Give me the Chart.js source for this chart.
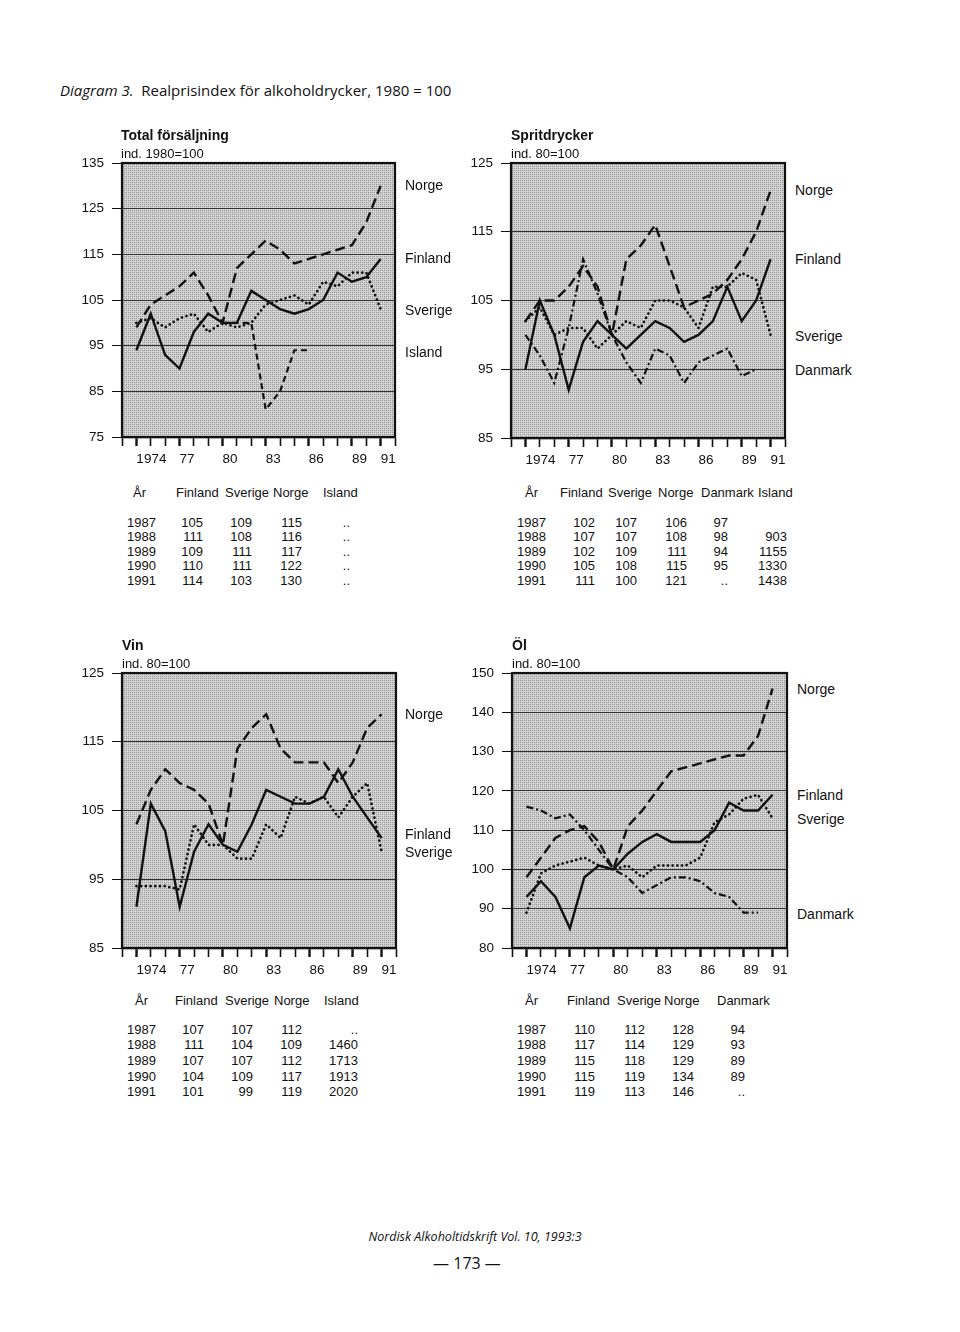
<!DOCTYPE html>
<html><head><meta charset="utf-8">
<script src="https://cdn.jsdelivr.net/npm/chart.js@4.4.1/dist/chart.umd.min.js"></script>
<style>
html,body{margin:0;padding:0;background:#fff;}
body{width:960px;height:1332px;position:relative;overflow:hidden;font-family:"Liberation Sans",Arial,sans-serif;color:#111;}
.t{position:absolute;line-height:1;white-space:nowrap;}
canvas{position:absolute;}
</style></head><body>
<script>
// ---------- data ----------
const years = [1974,1975,1976,1977,1978,1979,1980,1981,1982,1983,1984,1985,1986,1987,1988,1989,1990,1991];
const majorYears = [1974,1977,1980,1983,1986,1989,1991];
const tickLabels = ['1974','77','80','83','86','89','91'];

// Total försäljning
const totFinland = [94,102,93,90,98,102,100,100,107,105,103,102,103,105,111,109,110,114];
const totSverige = [100,101,99,101,102,98,100,99,100,104,105,106,104,109,108,111,111,103];
const totNorge   = [99,104,106,108,111,106,100,112,115,118,116,113,114,115,116,117,122,130];
const totIsland  = [null,null,null,null,null,null,100,100,100,81,85,94,94,null,null,null,null,null];
const totYTicks = [75,135,10];

// Spritdrycker
const sprFinland = [95,105,100,92,99,102,100,98,100,102,101,99,100,102,107,102,105,111];
const sprSverige = [102,104,100,101,101,98,100,102,101,105,105,104,101,107,107,109,108,100];
const sprNorge   = [102,105,105,107,110,107,100,111,113,116,110,104,105,106,108,111,115,121];
const sprDanmark = [100,97,93,101,111,106,100,96,93,98,97,93,96,97,98,94,95,null];
const sprYTicks = [85,125,10];

// Vin
const vinFinland = [91,106,102,91,99,103,100,99,103,108,107,106,106,107,111,107,104,101];
const vinSverige = [94,94,94,93.5,103,100,100,98,98,103,101,107,106,107,104,107,109,99];
const vinNorge   = [103,108,111,109,108,106,100,114,117,119,114,112,112,112,109,112,117,119];
const vinYTicks = [85,125,10];

// Öl
const olFinland = [93,97,93,85,98,101,100,104,107,109,107,107,107,110,117,115,115,119];
const olSverige = [89,99,101,102,103,101,100,101,98,101,101,101,103,112,114,118,119,113];
const olNorge   = [98,103,108,110,111,107,100,111,115,120,125,126,127,128,129,129,134,146];
const olDanmark = [116,115,113,114,110,105,100,98,94,96,98,98,97,94,93,89,89,null];
const olYTicks = [80,150,10];

// tables
const tabYears = ['1987','1988','1989','1990','1991'];
const t1Head = ['År','Finland','Sverige','Norge','Island'];
const t1Fin = ['105','111','109','110','114'], t1Swe = ['109','108','111','111','103'], t1Nor = ['115','116','117','122','130'], t1Isl = ['..','..','..','..','..'];
const t2Head = ['År','Finland','Sverige','Norge','Danmark','Island'];
const t2Fin = ['102','107','102','105','111'], t2Swe = ['107','107','109','108','100'], t2Nor = ['106','108','111','115','121'], t2Den = ['97','98','94','95','..'], t2Isl = ['','903','1155','1330','1438'];
const t3Head = ['År','Finland','Sverige','Norge','Island'];
const t3Fin = ['107','111','107','104','101'], t3Swe = ['107','104','107','109','99'], t3Nor = ['112','109','112','117','119'], t3Isl = ['..','1460','1713','1913','2020'];
const t4Head = ['År','Finland','Sverige','Norge','Danmark'];
const t4Fin = ['110','117','115','115','119'], t4Swe = ['112','114','118','119','113'], t4Nor = ['128','129','129','134','146'], t4Den = ['94','93','89','89','..'];

// ---------- helpers ----------
const FONT = '"Liberation Sans", Arial, sans-serif';
function txt(s, x, y, o) {
  o = o || {};
  const d = document.createElement('div');
  d.className = 't';
  d.textContent = s;
  const fs = o.size || 13;
  d.style.fontSize = fs + 'px';
  if (o.weight) d.style.fontWeight = o.weight;
  if (o.italic) d.style.fontStyle = 'italic';
  if (o.family) d.style.fontFamily = o.family;
  d.style.top = (y - 0.5 * fs) + 'px';
  if (o.align === 'right') { d.style.right = (960 - x) + 'px'; d.style.textAlign = 'right'; }
  else if (o.align === 'center') { d.style.left = (x - 200) + 'px'; d.style.width = '400px'; d.style.textAlign = 'center'; }
  else d.style.left = x + 'px';
  document.body.appendChild(d);
  return d;
}

let patternCanvas = null;
function getPattern(ctx) {
  if (!patternCanvas) {
    patternCanvas = document.createElement('canvas');
    patternCanvas.width = 4; patternCanvas.height = 4;
    const p = patternCanvas.getContext('2d');
    p.fillStyle = '#cdcdcd'; p.fillRect(0, 0, 4, 4);
    p.fillStyle = '#9c9c9c';
    p.fillRect(0, 0, 1, 1); p.fillRect(2, 2, 1, 1); p.fillRect(2, 0, 1, 1); p.fillRect(0, 2, 1, 1);
    p.fillStyle = '#e4e4e4';
    p.fillRect(1, 1, 1, 1); p.fillRect(3, 3, 1, 1);
  }
  return ctx.createPattern(patternCanvas, 'repeat');
}
const framePlugin = {
  id: 'frame',
  beforeDraw(chart) {
    const a = chart.chartArea, ctx = chart.ctx;
    ctx.save(); ctx.fillStyle = getPattern(ctx);
    ctx.fillRect(a.left, a.top, a.right - a.left, a.bottom - a.top); ctx.restore();
  },
  afterDraw(chart) {
    const a = chart.chartArea, ctx = chart.ctx;
    ctx.save(); ctx.strokeStyle = '#111'; ctx.lineWidth = 2.2;
    ctx.strokeRect(a.left, a.top, a.right - a.left, a.bottom - a.top); ctx.restore();
  }
};

const STY = {
  fin: { w: 2.4, dash: [] },
  swe: { w: 2.7, dash: [0.1, 4.6], cap: 'round' },
  nor: { w: 2.4, dash: [10, 5] },
  isl: { w: 2.2, dash: [6, 4] },
  den: { w: 2.2, dash: [7, 3, 2, 3] }
};
function ds(vals, st) {
  return {
    data: years.map((yr, i) => ({ x: yr, y: vals[i] })),
    borderColor: '#111', borderWidth: st.w, borderDash: st.dash,
    borderCapStyle: st.cap || 'butt', borderJoinStyle: 'miter',
    pointRadius: 0, fill: false, tension: 0, spanGaps: false
  };
}

function makeChart(box, area, yt, datasets) {
  const c = document.createElement('canvas');
  c.width = box.w; c.height = box.h;
  c.style.left = box.x + 'px'; c.style.top = box.y + 'px';
  c.style.width = box.w + 'px'; c.style.height = box.h + 'px';
  document.body.appendChild(c);
  const yW = area.l - box.x, padTop = area.t - box.y, padRight = box.x + box.w - area.r, xH = box.y + box.h - area.b;
  new Chart(c, {
    type: 'line',
    data: { datasets },
    plugins: [framePlugin],
    options: {
      responsive: false, animation: false, events: [],
      layout: { padding: { top: padTop, right: padRight, left: 0, bottom: 0 } },
      plugins: { legend: { display: false }, tooltip: { enabled: false }, title: { display: false } },
      scales: {
        x: {
          type: 'linear', min: 1973, max: 1992,
          afterFit(s) { s.height = xH; },
          ticks: {
            stepSize: 1, autoSkip: false, maxRotation: 0, minRotation: 0, align: 'start', padding: 5,
            color: '#111', font: { size: 13.5, family: FONT },
            callback: (v) => { const i = majorYears.indexOf(v); return i < 0 ? '' : tickLabels[i]; }
          },
          grid: {
            drawOnChartArea: false, drawTicks: true, tickLength: 9, tickColor: '#111',
            tickWidth: (ctx) => (ctx.tick && majorYears.includes(ctx.tick.value)) ? 2.4 : 1.6
          },
          border: { display: true, color: '#111', width: 2.2 }
        },
        y: {
          type: 'linear', min: yt[0], max: yt[1],
          afterFit(s) { s.width = yW; },
          ticks: { stepSize: yt[2], color: '#111', font: { size: 13.5, family: FONT }, padding: 8 },
          grid: { color: '#333', lineWidth: 1, tickLength: 10, tickColor: '#111' },
          border: { display: true, color: '#111', width: 2.2 }
        }
      }
    }
  });
}

// ---------- charts ----------
makeChart({ x: 50, y: 140, w: 355, h: 335 }, { l: 122, t: 163, r: 395, b: 437 }, totYTicks,
  [ds(totFinland, STY.fin), ds(totSverige, STY.swe), ds(totNorge, STY.nor), ds(totIsland, STY.isl)]);
makeChart({ x: 440, y: 140, w: 355, h: 335 }, { l: 511, t: 163, r: 785, b: 438 }, sprYTicks,
  [ds(sprFinland, STY.fin), ds(sprSverige, STY.swe), ds(sprNorge, STY.nor), ds(sprDanmark, STY.den)]);
makeChart({ x: 50, y: 650, w: 356, h: 335 }, { l: 122, t: 673, r: 396, b: 948 }, vinYTicks,
  [ds(vinFinland, STY.fin), ds(vinSverige, STY.swe), ds(vinNorge, STY.nor)]);
makeChart({ x: 440, y: 650, w: 357, h: 335 }, { l: 512, t: 673, r: 787, b: 948 }, olYTicks,
  [ds(olFinland, STY.fin), ds(olSverige, STY.swe), ds(olNorge, STY.nor), ds(olDanmark, STY.den)]);

// ---------- texts ----------
const tt = txt('', 60, 90, { size: 15, family: '"Open Sans", sans-serif' });
tt.innerHTML = '<i>Diagram 3.</i>&nbsp; Realprisindex för alkoholdrycker, 1980 = 100';

txt('Total försäljning', 121, 135, { size: 14, weight: 'bold' });
txt('ind. 1980=100', 121, 153, { size: 13 });
txt('Spritdrycker', 511, 135, { size: 14, weight: 'bold' });
txt('ind. 80=100', 511, 153, { size: 13 });
txt('Vin', 122, 645, { size: 14, weight: 'bold' });
txt('ind. 80=100', 122, 663, { size: 13 });
txt('Öl', 512, 645, { size: 14, weight: 'bold' });
txt('ind. 80=100', 512, 663, { size: 13 });

// series name labels
[['Norge', 405, 185], ['Finland', 405, 258], ['Sverige', 405, 310], ['Island', 405, 352],
 ['Norge', 795, 190], ['Finland', 795, 259], ['Sverige', 795, 336], ['Danmark', 795, 370],
 ['Norge', 405, 714], ['Finland', 405, 834], ['Sverige', 405, 852],
 ['Norge', 797, 689], ['Finland', 797, 795], ['Sverige', 797, 819], ['Danmark', 797, 914]
].forEach(a => txt(a[0], a[1], a[2], { size: 14 }));

function table(head, headX, cols, colR, yearX, headY, rowY, rowStep) {
  head.forEach((h, i) => txt(h, headX[i], headY, { size: 13 }));
  tabYears.forEach((yr, r) => {
    const y = rowY + r * rowStep;
    txt(yr, yearX, y, { size: 13 });
    cols.forEach((col, c) => { if (col[r]) txt(col[r], colR[c], y, { size: 13, align: 'right' }); });
  });
}
table(t1Head, [133, 176, 225, 273, 323], [t1Fin, t1Swe, t1Nor, t1Isl], [203, 252, 302, 350], 127, 492, 522, 14.6);
table(t2Head, [525, 560, 608, 658, 701, 758], [t2Fin, t2Swe, t2Nor, t2Den, t2Isl], [595, 637, 687, 728, 787], 517, 492, 522, 14.6);
table(t3Head, [135, 175, 225, 274, 324], [t3Fin, t3Swe, t3Nor, t3Isl], [204, 253, 302, 358], 127, 1000, 1029, 15.7);
table(t4Head, [525, 567, 617, 664, 717], [t4Fin, t4Swe, t4Nor, t4Den], [595, 645, 694, 745], 517, 1000, 1029, 15.7);

txt('Nordisk Alkoholtidskrift Vol. 10, 1993:3', 475, 1237, { size: 12.5, italic: true, family: '"Open Sans", sans-serif', align: 'center' });
txt('— 173 —', 467, 1263, { size: 16, family: '"Open Sans", sans-serif', align: 'center' });
</script>
</body></html>
